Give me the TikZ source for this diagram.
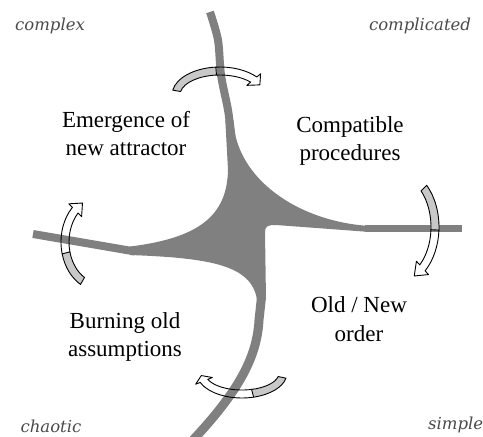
\documentclass[tikz,border=0pt]{standalone}
\usepackage{fontspec}
\setmainfont{LiberationSerif}[Extension=.ttf, UprightFont=*-Regular, ItalicFont=*-Italic, BoldFont=*-Bold]
\newfontfamily\cornerfont{DejaVuSerif}[Extension=.ttf, UprightFont=*, ItalicFont=*-Italic]
\usepackage{xcolor}
\definecolor{bandgray}{HTML}{808080}
\definecolor{tailgray}{HTML}{C8C8C8}
\definecolor{cornergray}{HTML}{4A4A4A}
\tikzset{
  band/.style={draw=bandgray, line width=8pt, line cap=butt},
  blob/.style={fill=bandgray},
  tailband/.style={fill=tailgray, draw=black, line width=0.9pt, line join=round},
  headband/.style={draw=black, line width=0.9pt, line join=round},
  regiontext/.style={font=\rmfamily\fontsize{23}{28.5}\selectfont, align=center, inner sep=0pt},
  cornertext/.style={font=\cornerfont\itshape\fontsize{16.5}{18}\selectfont, text=cornergray, inner sep=0pt},
}
% curved band arrow: center, x radius, y radius, tail angle, split angle, head angle
\newcommand\cyclearrow[6]{%
  \begin{scope}[shift={#1}]
    \pgfmathsetmacro\ox{#2+4}\pgfmathsetmacro\oy{#3+4}
    \pgfmathsetmacro\ix{#2-4}\pgfmathsetmacro\iy{#3-4}
    \pgfmathsetmacro\bx{#2+9}\pgfmathsetmacro\by{#3+9}
    \pgfmathsetmacro\cx{#2-9}\pgfmathsetmacro\cy{#3-9}
    \pgfmathsetmacro\tip{#6-15}
    \filldraw[tailband] ({\ox*cos(#4)},{\oy*sin(#4)})
      arc[start angle=#4, end angle=#5, x radius=\ox, y radius=\oy]
      -- ({\ix*cos(#5)},{\iy*sin(#5)})
      arc[start angle=#5, end angle=#4, x radius=\ix, y radius=\iy] -- cycle;
    \draw[headband] ({\ox*cos(#5)},{\oy*sin(#5)})
      arc[start angle=#5, end angle=#6, x radius=\ox, y radius=\oy]
      -- ({\bx*cos(#6)},{\by*sin(#6)}) -- ({#2*cos(\tip)},{#3*sin(\tip)})
      -- ({\cx*cos(#6)},{\cy*sin(#6)}) -- ({\ix*cos(#6)},{\iy*sin(#6)})
      arc[start angle=#6, end angle=#5, x radius=\ix, y radius=\iy];
  \end{scope}}

\begin{document}
\begin{tikzpicture}[x=1pt, y=1pt]
  \useasboundingbox (0,0) rectangle (483,437);
  % the four arms
  \draw[band] plot[smooth] coordinates {(210,425) (218,397) (221,362) (228,327) (231.5,300)};
  \draw[band] (33,203) -- (135,185.5);
  \draw[band, line width=7pt] (365,208.5) -- (462,208.5);
  \draw[band, line width=9pt] (261.5,140) -- (259,117) .. controls (257,77) and (235,42) .. (193,-3);
  % centre where they meet
  \fill[blob] (228,267) .. controls (227,222) and (200,199) .. (130,190.5)
    -- (130,182) .. controls (210,179) and (252,172) .. (257,137)
    -- (266,137) -- (265,205) .. controls (265,211) and (268,212) .. (276,212)
    -- (370,205) -- (370,211) .. controls (300,215) and (236,257) .. (233.3,317)
    -- (225.3,317) -- cycle;
  % turning arrows on the borders
  \cyclearrow{(220,342)}{44}{24}{170}{95}{40}
  \cyclearrow{(100,195)}{35}{45}{240}{194}{135}
  \cyclearrow{(397,210)}{38}{55}{45}{-3}{-48}
  \cyclearrow{(242,64)}{41}{21}{-12}{-75}{-158}
  % labels
  \node[regiontext] (emergence) at (126,303.5) {Emergence of\\new attractor};
  \node[regiontext] (compatible) at (350,296) {Compatible\\procedures};
  \node[regiontext] (oldnew) at (359,118) {Old / New\\order};
  \node[regiontext] (burning) at (125,100) {Burning old\\assumptions};
  \node[cornertext] (complex) at (50,411.5) {complex};
  \node[cornertext] (complicated) at (420,411.5) {complicated};
  \node[cornertext] (chaotic) at (51,11) {chaotic};
  \node[cornertext, anchor=west] (simple) at (428,12.5) {simple};
\end{tikzpicture}
\end{document}
